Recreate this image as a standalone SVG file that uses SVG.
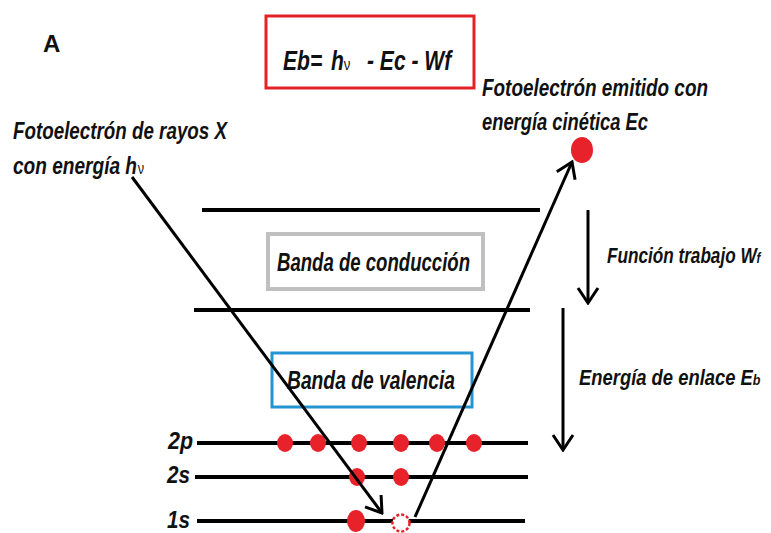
<svg xmlns="http://www.w3.org/2000/svg" width="771" height="533" viewBox="0 0 771 533">
<style>
.t{font-family:"Liberation Sans",Arial,sans-serif;font-weight:bold;font-style:italic;fill:#111;}
.nu{font-weight:normal;font-style:normal;}
.lv{stroke:#000;stroke-width:4;fill:none;}
.ar{stroke:#000;stroke-width:3;fill:none;marker-end:url(#v);}
.dot{fill:#e8222a;}
</style>
<defs>
<marker id="v" viewBox="0 0 20 24" refX="18" refY="12" markerWidth="20" markerHeight="24" markerUnits="userSpaceOnUse" orient="auto">
<path d="M3,2 L18,12 L3,22" fill="none" stroke="#000" stroke-width="3"/>
</marker>
</defs>
<rect width="771" height="533" fill="#fff"/>

<g id="label-A"><text x="43" y="52" font-family="Liberation Sans,Arial,sans-serif" font-weight="bold" font-size="24" fill="#111">A</text></g>

<g id="formula">
<rect x="266" y="16" width="208" height="72" fill="none" stroke="#e32227" stroke-width="3"/>
<text class="t" font-size="27" transform="translate(283,70) scale(0.78,1)"><tspan x="0">Eb=</tspan><tspan x="61.5">h</tspan><tspan x="78" class="nu" font-size="17">ν</tspan><tspan x="107.7">- Ec - Wf</tspan></text>
</g>

<g id="label-xray">
<text class="t" font-size="24" transform="translate(13,139) scale(0.783,1)">Fotoelectrón de rayos X</text>
<text class="t" font-size="24" transform="translate(13,174) scale(0.795,1)">con energía h<tspan class="nu" font-size="16" dx="1">ν</tspan></text>
</g>

<g id="label-emitted">
<text class="t" x="482" y="96" font-size="24" textLength="226" lengthAdjust="spacingAndGlyphs">Fotoelectrón emitido con</text>
<text class="t" x="482" y="130" font-size="24" textLength="166" lengthAdjust="spacingAndGlyphs">energía cinética Ec</text>
</g>

<g id="emitted-electron"><ellipse cx="582" cy="150" rx="11" ry="13" class="dot"/></g>

<g id="conduction-band">
<line x1="202" y1="210" x2="540" y2="210" class="lv"/>
<rect x="268" y="234" width="215" height="55" fill="#fff" stroke="#c0c0c0" stroke-width="4"/>
<text class="t" x="277" y="271" font-size="25" textLength="193" lengthAdjust="spacingAndGlyphs">Banda de conducción</text>
<line x1="194" y1="310" x2="530" y2="310" class="lv"/>
</g>

<g id="valence-band">
<rect x="272" y="353" width="200" height="54" fill="#fff" stroke="#2596d1" stroke-width="3"/>
<text class="t" x="287" y="389" font-size="25" textLength="168" lengthAdjust="spacingAndGlyphs">Banda de valencia</text>
</g>

<g id="level-2p">
<text class="t" x="168" y="449" font-size="23" textLength="25" lengthAdjust="spacingAndGlyphs">2p</text>
<line x1="197" y1="443" x2="528" y2="443" class="lv"/>
<ellipse cx="285" cy="443" rx="8" ry="9" class="dot"/>
<ellipse cx="318" cy="443" rx="8" ry="9" class="dot"/>
<ellipse cx="359" cy="443" rx="8" ry="9" class="dot"/>
<ellipse cx="401" cy="443" rx="8" ry="9" class="dot"/>
<ellipse cx="437" cy="443" rx="8" ry="9" class="dot"/>
<ellipse cx="474" cy="443" rx="8" ry="9" class="dot"/>
</g>

<g id="level-2s">
<text class="t" x="167" y="483" font-size="23" textLength="23" lengthAdjust="spacingAndGlyphs">2s</text>
<line x1="195" y1="477" x2="528" y2="477" class="lv"/>
<ellipse cx="357" cy="477" rx="8" ry="9" class="dot"/>
<ellipse cx="401" cy="477" rx="8" ry="9" class="dot"/>
</g>

<g id="level-1s">
<text class="t" x="167" y="528" font-size="23" textLength="23" lengthAdjust="spacingAndGlyphs">1s</text>
<line x1="197" y1="521" x2="525" y2="521" class="lv"/>
<ellipse cx="356" cy="521" rx="9" ry="11" class="dot"/>
<circle cx="401" cy="523" r="8.5" fill="#fff" stroke="#e8222a" stroke-width="2.5" stroke-dasharray="3 2"/>
</g>

<g id="label-wf">
<text class="t" font-size="22" transform="translate(607,263) scale(0.78,1)">Función trabajo W<tspan font-size="15">f</tspan></text>
</g>

<g id="label-eb">
<text class="t" font-size="22" transform="translate(579,385) scale(0.837,1)">Energía de enlace E<tspan font-size="15">b</tspan></text>
</g>

<g id="connectors">
<line x1="132" y1="177" x2="382" y2="513" class="ar"/>
<line x1="415" y1="517" x2="572" y2="162" class="ar" stroke-width="2.5"/>
<line x1="588" y1="210" x2="588" y2="303" class="ar"/>
<line x1="563" y1="308" x2="563" y2="450" class="ar"/>
</g>
</svg>
